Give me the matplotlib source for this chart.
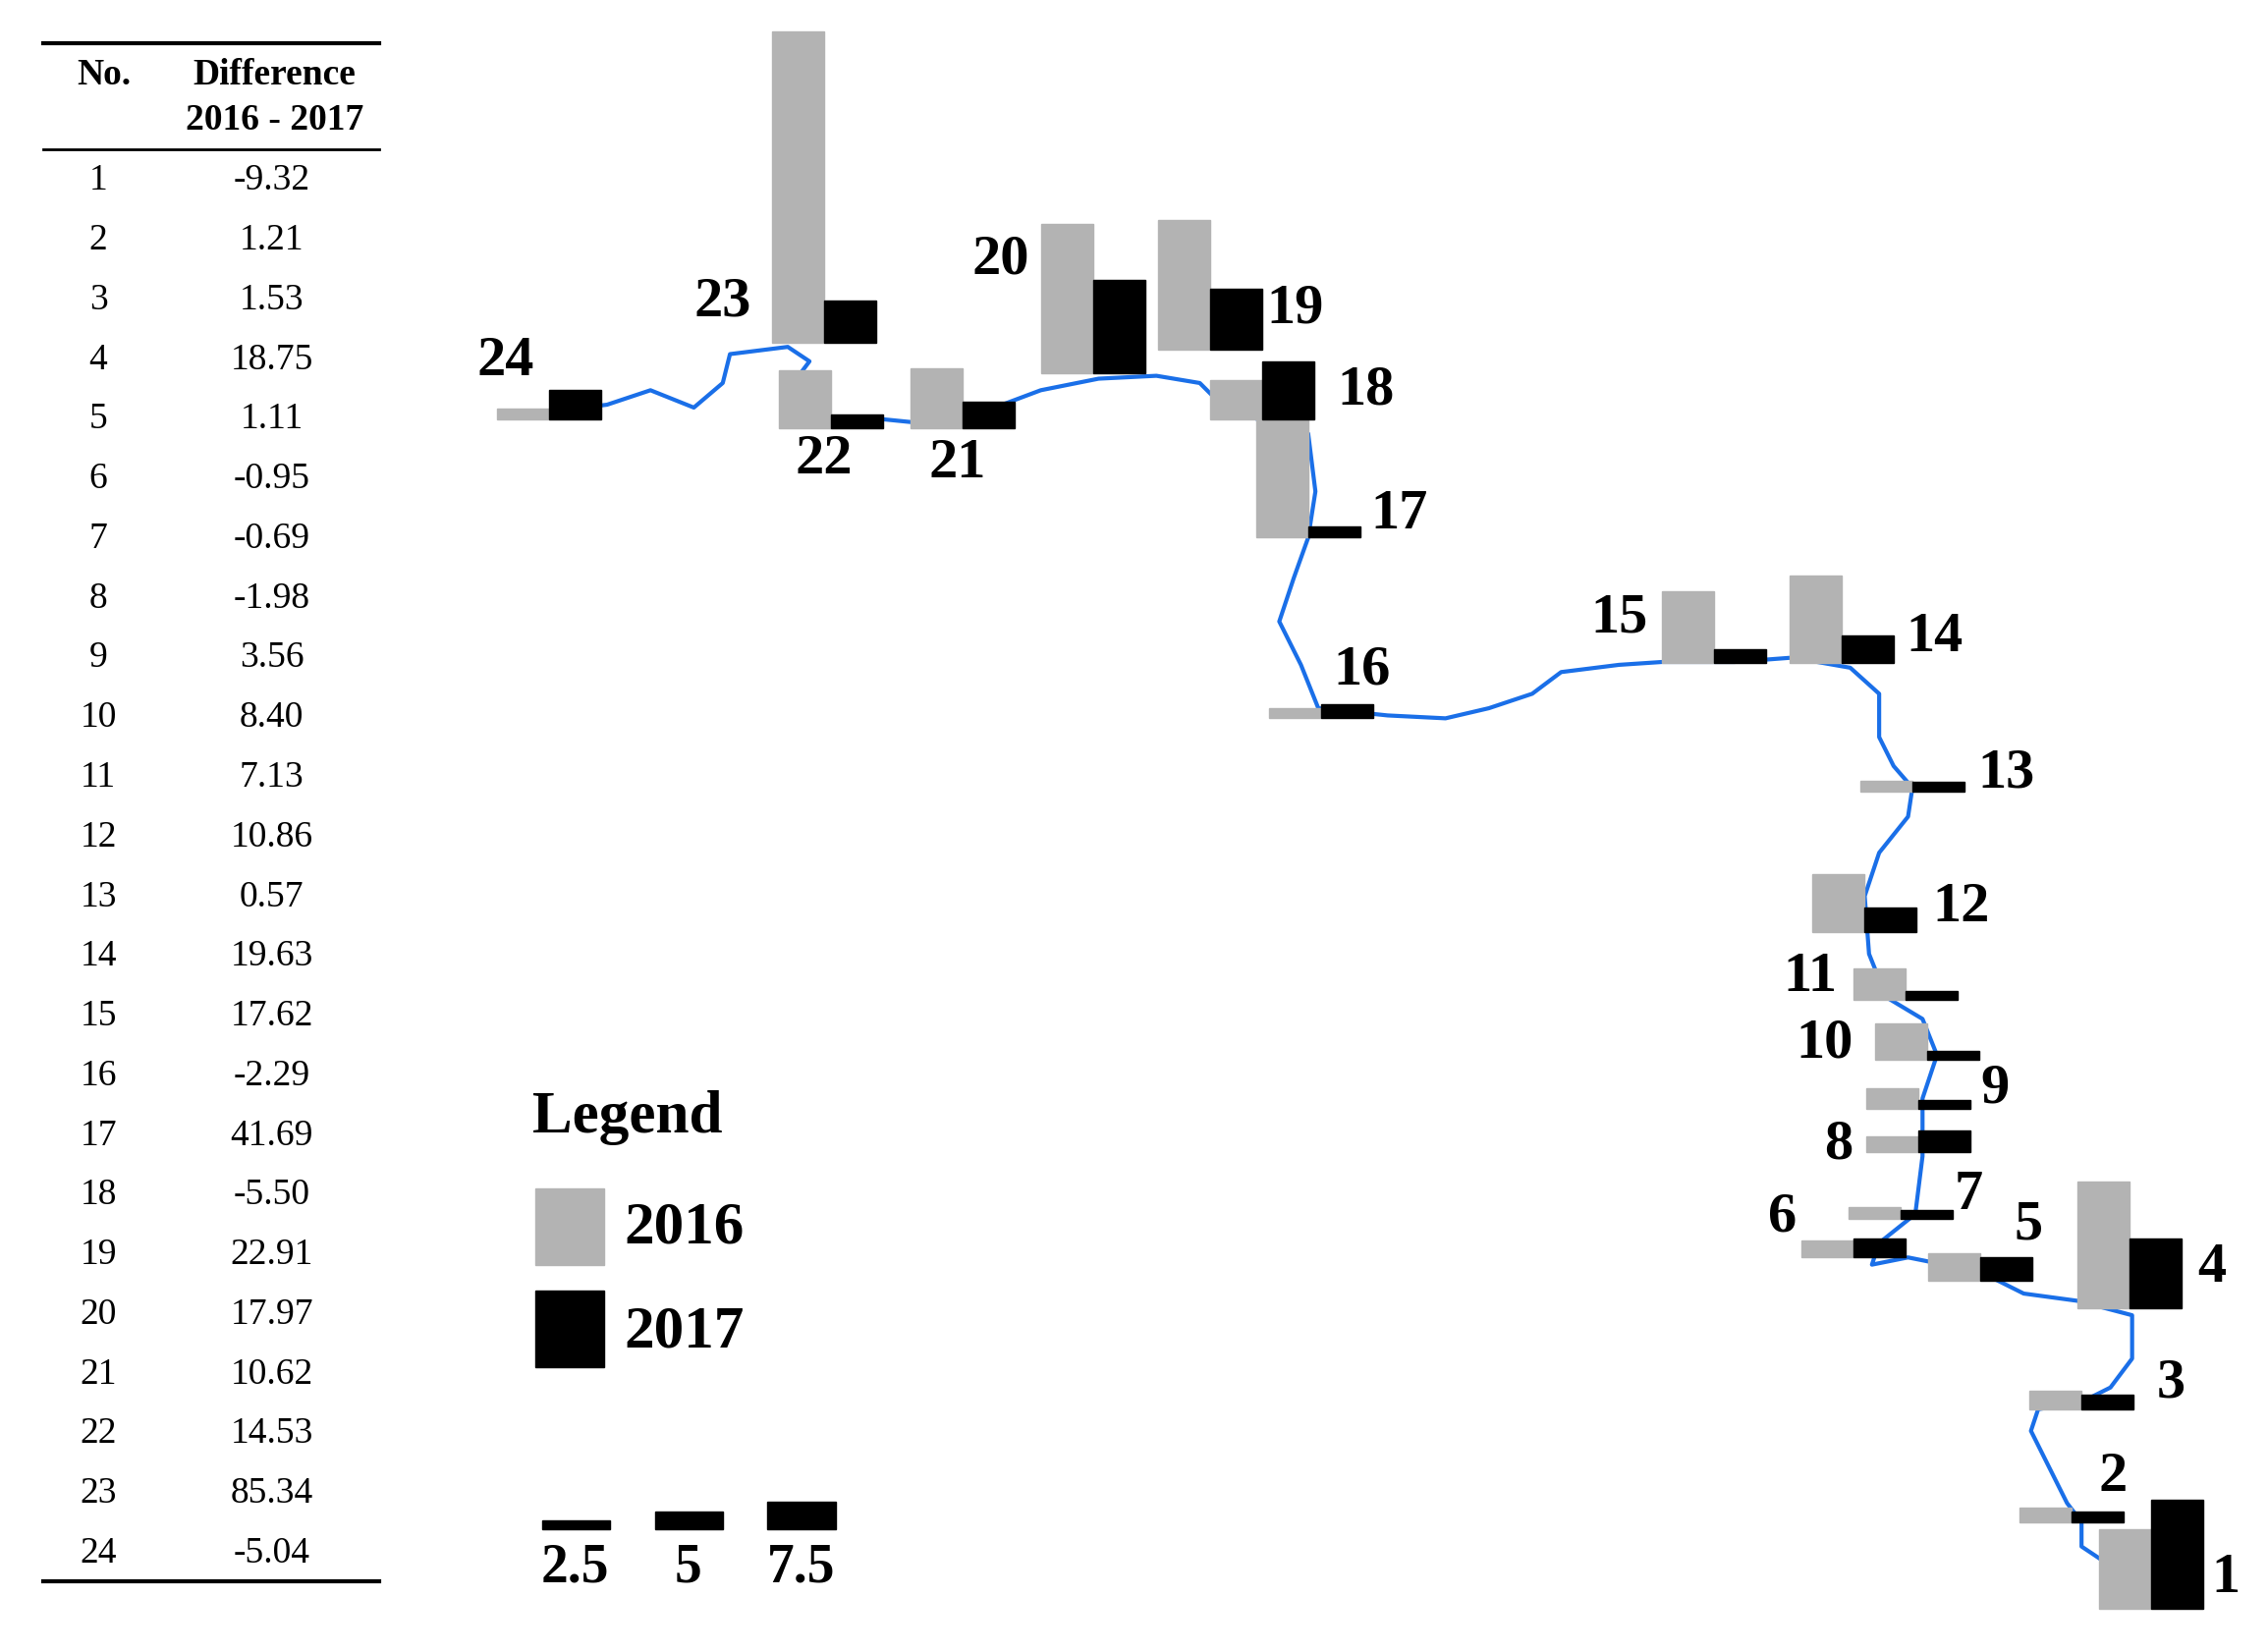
import matplotlib.pyplot as plt
from matplotlib.patches import Rectangle

plt.rcParams['font.family'] = ['Liberation Serif', 'DejaVu Serif']

# 표 데이터
station_no = list(range(1, 25))
difference = ['-9.32', '1.21', '1.53', '18.75', '1.11', '-0.95', '-0.69', '-1.98',
              '3.56', '8.40', '7.13', '10.86', '0.57', '19.63', '17.62', '-2.29',
              '41.69', '-5.50', '22.91', '17.97', '10.62', '14.53', '85.34', '-5.04']

# 지점 위치 (지도 좌표, 막대 기준점)
site_x = [1488, 1433, 1440, 1473, 1370, 1282, 1315, 1327, 1327, 1333, 1318, 1290,
          1323, 1274, 1186, 914, 905, 873, 837, 756, 666, 575, 570, 380]
site_y = [1113, 1053, 975, 905, 886, 870, 843, 797, 767, 733, 692, 645,
          548, 459, 459, 497, 372, 290, 242, 258, 296, 296, 237, 290]
# 막대 값
val_2016 = [22, 4, 5.2, 35, 7.6, 4.8, 3.2, 4.4, 5.6, 10, 8.8, 16,
            3.2, 24.4, 20, 2.8, 32.8, 10.8, 36, 41.2, 16.4, 16, 86, 2.8]
val_2017 = [30, 2.8, 4, 19.2, 6.4, 5.2, 2.4, 6, 2.4, 2.4, 2.4, 6.8,
            2.8, 7.6, 4, 4, 3.2, 16, 16.8, 25.6, 7.2, 3.6, 11.6, 8]
# 라벨 위치
label_x = [1540, 1462, 1502, 1530, 1403, 1233, 1362, 1272, 1380, 1262, 1252, 1357,
           1388, 1338, 1120, 942, 968, 945, 896, 692, 662, 570, 500, 350]
label_y = [1092, 1022, 957, 877, 848, 842, 827, 792, 753, 722, 676, 628,
           535, 441, 428, 464, 356, 270, 214, 180, 321, 318, 209, 250]

# 하천 경로
river_x = [380, 420, 450, 480, 500, 505, 545, 560, 545, 575, 610, 640, 680, 720, 760,
           800, 830, 845, 870, 905, 910, 905, 895, 885, 900, 912, 960, 1000, 1030,
           1060, 1080, 1120, 1150, 1200, 1240, 1280, 1300, 1300, 1310, 1323, 1320,
           1300, 1290, 1293, 1305, 1330, 1340, 1330, 1330, 1325, 1300, 1295, 1320,
           1370, 1400, 1437, 1475, 1475, 1460, 1440, 1410, 1405, 1415, 1430, 1440,
           1440, 1455, 1470]
river_y = [285, 280, 270, 282, 265, 245, 240, 250, 270, 292, 290, 293, 285, 270, 262,
           260, 265, 280, 290, 300, 340, 372, 400, 430, 460, 490, 495, 497, 490,
           480, 465, 460, 458, 458, 455, 462, 480, 510, 530, 545, 565, 590, 620,
           660, 690, 705, 730, 760, 800, 840, 860, 875, 870, 880, 895, 900, 910,
           940, 960, 970, 975, 990, 1010, 1040, 1053, 1070, 1080, 1078]

scale_vals = [2.5, 5, 7.5]
scale_labels = ['2.5', '5', '7.5']

px_per_unit = 2.5
bar_w = 36
gray = '#b3b3b3'

fig = plt.figure(figsize=(23.09, 16.82), dpi=100)
ax = fig.add_axes([0, 0, 1, 1])
ax.set_xlim(0, 1569)
ax.set_ylim(1143, 0)
ax.axis('off')

ax.plot(river_x, river_y, color='#1a6fe8', lw=3, zorder=1)

for i in range(24):
    h16 = val_2016[i] * px_per_unit
    h17 = val_2017[i] * px_per_unit
    ax.add_patch(Rectangle((site_x[i] - bar_w, site_y[i] - h16), bar_w, h16,
                           color=gray, zorder=2))
    ax.add_patch(Rectangle((site_x[i], site_y[i] - h17), bar_w, h17,
                           color='black', zorder=3))
    ax.text(label_x[i], label_y[i], str(station_no[i]), fontsize=42,
            fontweight='bold', ha='center', va='center')

# 표
ax.plot([30, 262], [30, 30], color='black', lw=3)
ax.plot([30, 262], [103, 103], color='black', lw=2)
ax.plot([30, 262], [1094, 1094], color='black', lw=3)
ax.text(72, 52, 'No.', fontsize=27, fontweight='bold', ha='center', va='center')
ax.text(190, 52, 'Difference', fontsize=27, fontweight='bold', ha='center', va='center')
ax.text(190, 83, '2016 - 2017', fontsize=27, fontweight='bold', ha='center', va='center')
for i in range(24):
    y = 125 + i * 41.3
    ax.text(68, y, str(station_no[i]), fontsize=27, ha='center', va='center')
    ax.text(188, y, difference[i], fontsize=27, ha='center', va='center')

# 범례
ax.text(368, 773, 'Legend', fontsize=44, fontweight='bold', ha='left', va='center')
ax.add_patch(Rectangle((370, 822), 48, 53, color=gray))
ax.text(432, 850, '2016', fontsize=44, fontweight='bold', ha='left', va='center')
ax.add_patch(Rectangle((370, 893), 48, 53, color='black'))
ax.text(432, 922, '2017', fontsize=44, fontweight='bold', ha='left', va='center')
for j, (sv, sl) in enumerate(zip(scale_vals, scale_labels)):
    x0 = 375 + j * 78
    h = sv * px_per_unit
    ax.add_patch(Rectangle((x0, 1058 - h), 47, h, color='black'))
    ax.text(x0 + 23, 1085, sl, fontsize=40, fontweight='bold', ha='center', va='center')

fig.savefig('out.png', dpi=100)
